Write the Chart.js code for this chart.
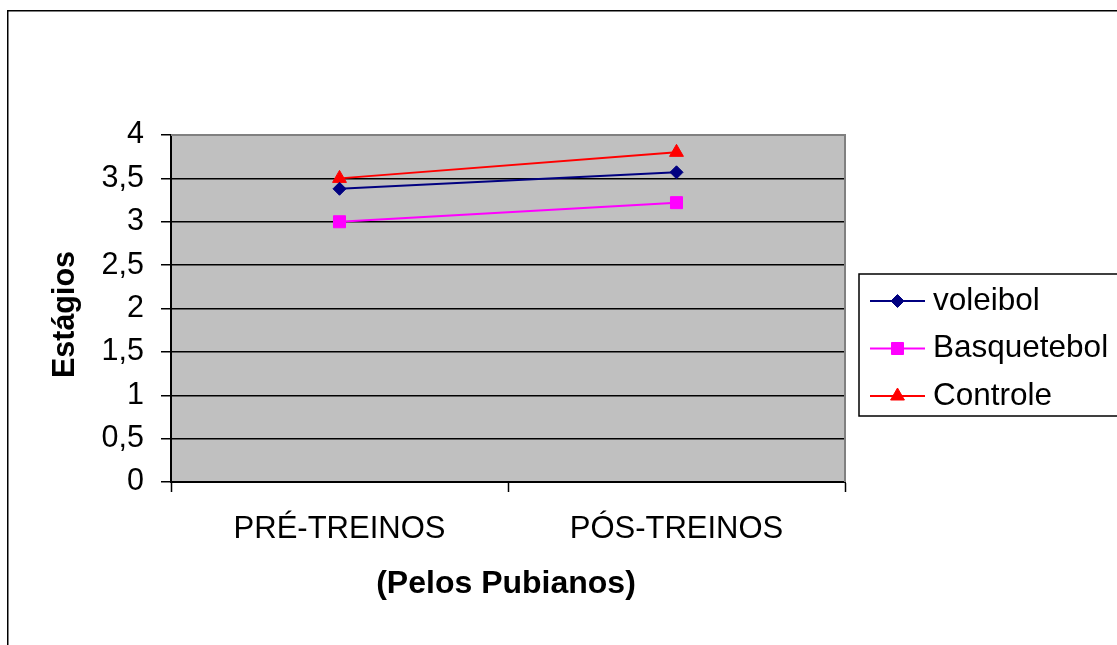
<!DOCTYPE html>
<html>
<head>
<meta charset="utf-8">
<script src="https://cdn.jsdelivr.net/npm/chart.js@4/dist/chart.umd.min.js"></script>
<style>
  html, body { margin: 0; padding: 0; background: #ffffff; }
  #chart { display: block; }
</style>
</head>
<body>
<canvas id="chart" width="1117" height="645"></canvas>
<script>
// Categories and series values (estágios de pelos pubianos)
const categories = ['PRÉ-TREINOS', 'PÓS-TREINOS'];
const voleibol = [3.38, 3.57];
const basquetebol = [3.0, 3.22];
const controle = [3.5, 3.8];

const seriesNames = ['voleibol', 'Basquetebol', 'Controle'];
const seriesColors = ['#000080', '#FF00FF', '#FF0000'];
const seriesMarkers = ['rectRot', 'rect', 'triangle'];
const markerRadius = [6.5, 8.5, 8];

const yMin = 0, yMax = 4, yStep = 0.5;
const yTitle = 'Estágios';
const xTitle = '(Pelos Pubianos)';

const FONT = '"Liberation Sans", Arial, sans-serif';
Chart.defaults.font.family = FONT;
Chart.defaults.color = '#000000';

// Page frame, grey plot background, axis titles and plot border
const decor = {
  id: 'decor',
  beforeDraw(chart) {
    const { ctx, chartArea: a } = chart;
    ctx.save();
    ctx.fillStyle = '#ffffff';
    ctx.fillRect(0, 0, chart.width, chart.height);
    ctx.strokeStyle = '#000000';
    ctx.lineWidth = 1.5;
    ctx.strokeRect(7.75, 10.75, chart.width + 50, chart.height + 50);
    ctx.fillStyle = '#C0C0C0';
    ctx.fillRect(a.left, a.top, a.right - a.left, a.bottom - a.top);
    ctx.restore();
  },
  beforeDatasetsDraw(chart) {
    const { ctx, chartArea: a } = chart;
    ctx.save();
    ctx.strokeStyle = '#808080';
    ctx.lineWidth = 2;
    ctx.beginPath();
    ctx.moveTo(a.left, a.top);
    ctx.lineTo(a.right, a.top);
    ctx.lineTo(a.right, a.bottom);
    ctx.stroke();
    ctx.restore();
  },
  afterDraw(chart) {
    const { ctx, chartArea: a } = chart;
    ctx.save();
    ctx.fillStyle = '#000000';
    ctx.textAlign = 'center';
    ctx.textBaseline = 'alphabetic';
    ctx.font = 'bold 32px ' + FONT;
    ctx.fillText(xTitle, (a.left + a.right) / 2 - 2, a.bottom + 111);
    ctx.font = 'bold 30.5px ' + FONT;
    ctx.translate(a.left - 97, (a.top + a.bottom) / 2 + 6);
    ctx.rotate(-Math.PI / 2);
    ctx.fillText(yTitle, 0, 0);
    ctx.restore();
  }
};

// Boxed legend to the right of the plot
const boxLegend = {
  id: 'boxLegend',
  afterDraw(chart) {
    const { ctx, chartArea: a } = chart;
    const left = a.right + 14;
    const top = a.top + 139;
    const rowH = 47.5;
    ctx.save();
    ctx.strokeStyle = '#000000';
    ctx.lineWidth = 1.5;
    ctx.strokeRect(left, top, 400, 142);
    chart.data.datasets.forEach((ds, i) => {
      const y = top + 27 + i * rowH;
      const x0 = left + 11, x1 = left + 66;
      ctx.strokeStyle = ds.borderColor;
      ctx.lineWidth = 2;
      ctx.beginPath();
      ctx.moveTo(x0, y);
      ctx.lineTo(x1, y);
      ctx.stroke();
      ctx.fillStyle = ds.pointBackgroundColor;
      ctx.strokeStyle = ds.pointBorderColor;
      ctx.lineWidth = 1;
      Chart.helpers.drawPoint(ctx, {
        pointStyle: ds.pointStyle, radius: ds.pointRadius, borderWidth: 1, rotation: 0
      }, (x0 + x1) / 2, y);
      ctx.fillStyle = '#000000';
      ctx.font = '31.5px ' + FONT;
      ctx.textAlign = 'left';
      ctx.textBaseline = 'middle';
      ctx.fillText(ds.label, left + 74, y);
    });
    ctx.restore();
  }
};

const allSeries = [voleibol, basquetebol, controle];
const datasets = allSeries.map((values, i) => ({
  label: seriesNames[i],
  data: values,
  borderColor: seriesColors[i],
  backgroundColor: seriesColors[i],
  pointBackgroundColor: seriesColors[i],
  pointBorderColor: seriesColors[i],
  pointBorderWidth: 1,
  pointStyle: seriesMarkers[i],
  pointRadius: markerRadius[i],
  pointHoverRadius: markerRadius[i],
  borderWidth: 2,
  tension: 0,
  fill: false
}));

new Chart(document.getElementById('chart'), {
  type: 'line',
  data: { labels: categories, datasets },
  options: {
    responsive: false,
    animation: false,
    devicePixelRatio: 1,
    layout: { padding: { left: 0, top: 135, right: 272, bottom: 0 } },
    plugins: { legend: { display: false }, tooltip: { enabled: false } },
    scales: {
      x: {
        offset: true,
        grid: {
          offset: true,
          drawOnChartArea: false,
          drawTicks: true,
          tickLength: 10,
          tickColor: '#000000',
          tickWidth: 1.5
        },
        border: { display: true, color: '#000000', width: 2 },
        ticks: { font: { size: 31 }, color: '#000000', padding: 19, maxRotation: 0 },
        afterFit(scale) { scale.height = 163; }
      },
      y: {
        min: yMin,
        max: yMax,
        grid: {
          color: '#000000',
          lineWidth: 1.5,
          drawTicks: true,
          tickLength: 10,
          tickColor: '#000000',
          tickWidth: 1.5
        },
        border: { display: true, color: '#000000', width: 2 },
        ticks: {
          stepSize: yStep,
          font: { size: 30.5 },
          color: '#000000',
          padding: 17,
          callback: (v) => String(v).replace('.', ',')
        },
        afterFit(scale) { scale.width = 171; }
      }
    }
  },
  plugins: [decor, boxLegend]
});
</script>
</body>
</html>
